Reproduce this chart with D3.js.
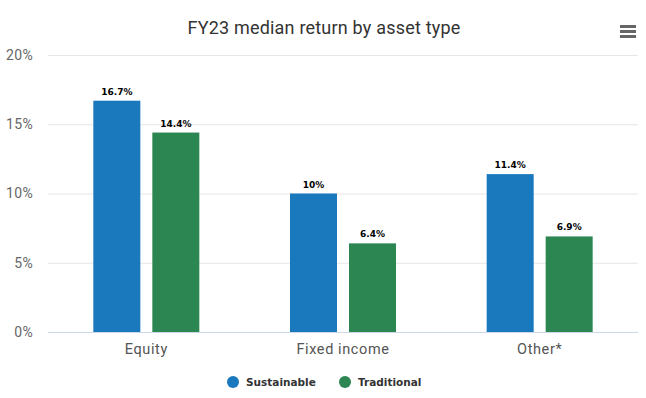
<!DOCTYPE html>
<html>
<head>
<meta charset="utf-8">
<script src="https://cdn.jsdelivr.net/npm/d3@7"></script>
<style>
  body { margin: 0; background: #fff; }
  svg { display: block; font-family: Roboto, "Noto Sans", sans-serif; }
</style>
</head>
<body>
<div id="chart"></div>
<script>
// **** THE DATA ****
const categories = ["Equity", "Fixed income", "Other*"]
const seriesNames = ["Sustainable", "Traditional"]
const sustainable = [16.7, 10, 11.4]
const traditional = [14.4, 6.4, 6.9]
const yTicks = [0, 5, 10, 15, 20]
const colors = ["#1a78bd", "#2c8651"]

// **** THE SETUP ****
const width = 646, height = 398
const margin = {top: 55, right: 8, bottom: 66, left: 48}

const svg = d3.select("#chart").append("svg")
    .attr("width", width)
    .attr("height", height)

// x scale for categories, and an inner one for the two series
const x = d3.scaleBand()
    .domain(categories)
    .range([margin.left, width - margin.right])
    .paddingInner(0)
    .paddingOuter(0)

const groupW = 106
const xInner = d3.scaleBand()
    .domain(seriesNames)
    .range([0, groupW])
    .paddingInner(12 / 59)

const y = d3.scaleLinear()
    .domain([0, 20])
    .range([height - margin.bottom, margin.top])

// title
svg.append("text")
    .attr("x", width / 2 + 1)
    .attr("y", 34)
    .attr("text-anchor", "middle")
    .attr("font-size", 18)
    .attr("letter-spacing", 0.2)
    .attr("fill", "#333")
    .text("FY23 median return by asset type")

// hamburger menu
svg.append("g").selectAll("rect")
  .data([0, 1, 2])
  .enter().append("rect")
    .attr("x", 620)
    .attr("y", (d) => 25 + d * 5)
    .attr("width", 16)
    .attr("height", 3)
    .attr("fill", "#666")

// gridlines + y axis
svg.append("g")
    .attr("class", "y axis")
    .attr("transform", "translate(" + margin.left + ",0)")
    .call(d3.axisLeft(y).tickValues(yTicks).tickFormat((d) => d + "%")
      .tickSize(-(width - margin.left - margin.right)).tickPadding(15))
    .call((g) => g.select(".domain").remove())
    .call((g) => g.selectAll(".tick line").attr("stroke", "#e6e6e6"))
    .call((g) => g.selectAll(".tick text")
      .attr("font-size", 14).attr("fill", "#666")
      .attr("letter-spacing", 0.3)
      .attr("font-family", "Roboto, sans-serif"))

// bars
const groups = svg.append("g").selectAll("g")
  .data(categories)
  .enter().append("g")
    .attr("transform", (d) => "translate(" + (x(d) + (x.bandwidth() - groupW) / 2) + ",0)")

groups.selectAll("rect")
  .data((d, i) => [{s: "Sustainable", v: sustainable[i]}, {s: "Traditional", v: traditional[i]}])
  .enter().append("rect")
    .attr("x", (d) => xInner(d.s))
    .attr("y", (d) => y(d.v))
    .attr("width", xInner.bandwidth())
    .attr("height", (d) => y(0) - y(d.v))
    .attr("fill", (d) => colors[seriesNames.indexOf(d.s)])

groups.selectAll(".lbl")
  .data((d, i) => [{s: "Sustainable", v: sustainable[i]}, {s: "Traditional", v: traditional[i]}])
  .enter().append("text")
    .attr("class", "lbl")
    .attr("x", (d) => xInner(d.s) + xInner.bandwidth() / 2)
    .attr("y", (d) => y(d.v) - 6)
    .attr("text-anchor", "middle")
    .attr("font-size", 9)
    .attr("font-weight", "bold")
    .attr("font-family", "'DejaVu Sans', sans-serif")
    .attr("fill", "#000")
    .text((d) => d.v + "%")

// x axis
svg.append("g")
    .attr("class", "x axis")
    .attr("transform", "translate(0," + y(0) + ")")
    .call(d3.axisBottom(x).tickSize(0).tickPadding(12))
    .call((g) => g.select(".domain").attr("stroke", "#ccd6eb")
      .attr("d", "M" + margin.left + ",0.5H" + (width - margin.right)))
    .call((g) => g.selectAll(".tick text")
      .attr("font-size", 14.5).attr("fill", "#555")
      .attr("letter-spacing", 0.6)
      .attr("font-family", "Roboto, sans-serif"))

// legend
const legendX = [233, 345]
const legend = svg.append("g").selectAll("g")
  .data(seriesNames)
  .enter().append("g")
    .attr("transform", (d, i) => "translate(" + legendX[i] + ",382)")

legend.append("circle")
    .attr("r", 6)
    .attr("fill", (d, i) => colors[i])

legend.append("text")
    .attr("x", 13)
    .attr("y", 4)
    .attr("font-size", 10.5)
    .attr("font-weight", "bold")
    .attr("font-family", "'DejaVu Sans', sans-serif")
    .attr("fill", "#333")
    .text((d) => d)
</script>
</body>
</html>
